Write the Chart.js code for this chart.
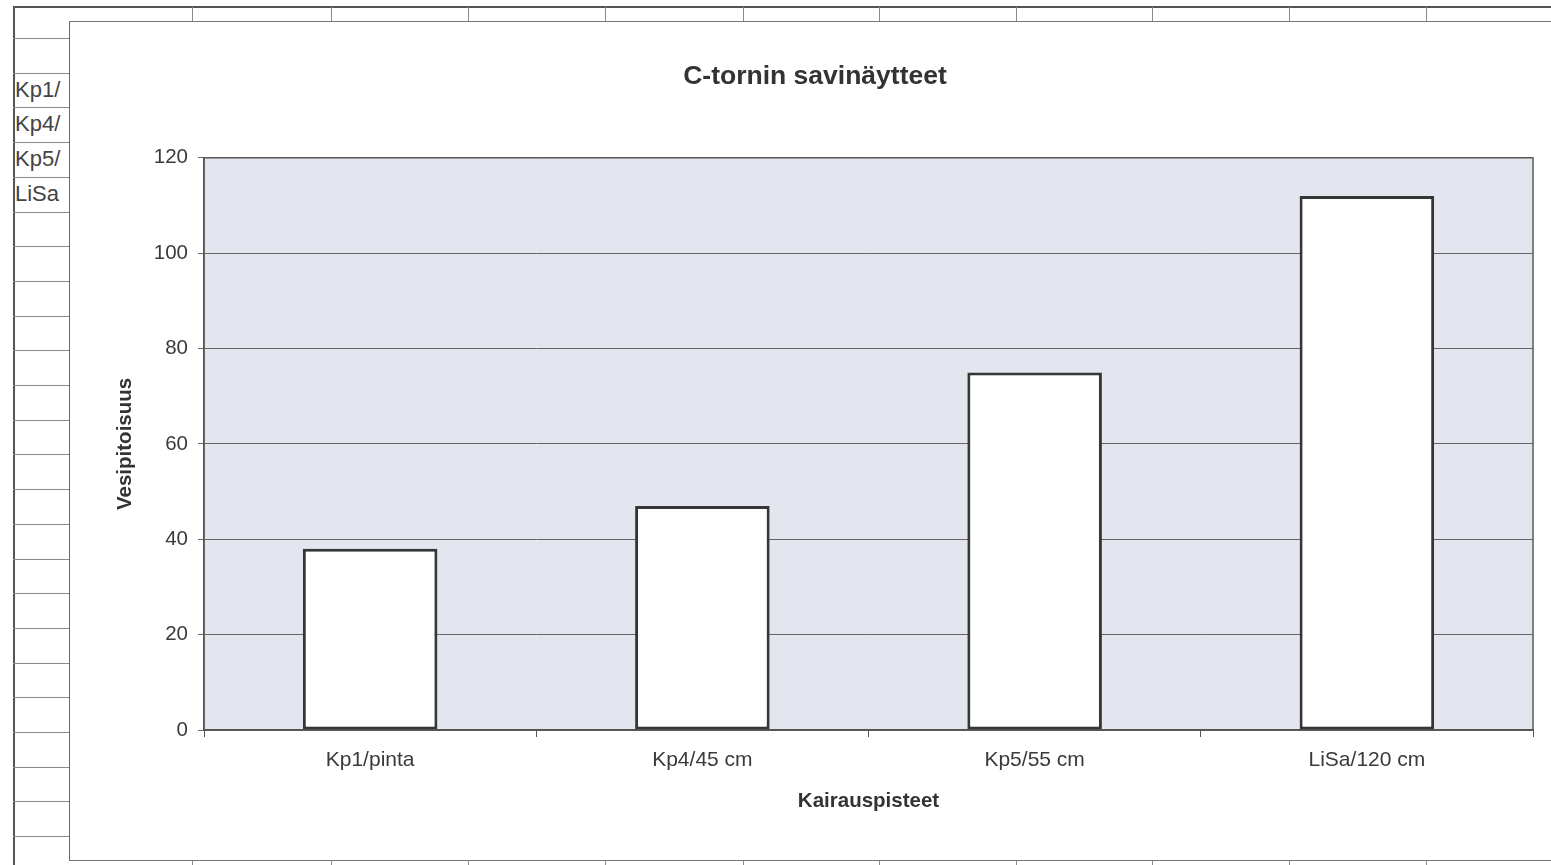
<!DOCTYPE html>
<html>
<head>
<meta charset="utf-8">
<script src="https://cdn.jsdelivr.net/npm/chart.js@4"></script>
<style>
  html, body { margin: 0; padding: 0; width: 1551px; height: 865px; overflow: hidden; background: #fff; font-family: "Liberation Sans", Arial, sans-serif; }
  .sheet { position: absolute; left: 0; top: 0; width: 1551px; height: 865px; }
  .hl { position: absolute; height: 0; border-top: 1px solid #8a8a8a; }
  .vl { position: absolute; width: 0; border-left: 1px solid #8a8a8a; }
  .cell { position: absolute; left: 15px; width: 54px; overflow: hidden; white-space: nowrap; font-size: 22px; color: #444; line-height: 34px; }
  #frame { position: absolute; left: 69px; top: 21px; width: 1500px; height: 838px; background: #fff; border-left: 1px solid #666; border-top: 1px solid #777; border-bottom: 1px solid #777; }
  #wrap { position: absolute; left: 97px; top: 22px; width: 1454px; height: 838px; }
</style>
</head>
<body>
<div class="sheet" id="sheet"></div>
<div id="frame"></div>
<div id="wrap"><canvas id="c"></canvas></div>
<script>
// ---- data ----
const categories = ["Kp1/pinta", "Kp4/45 cm", "Kp5/55 cm", "LiSa/120 cm"];
const values = [38, 47, 75, 112];
const yTicks = [0, 20, 40, 60, 80, 100, 120];
const sideCells = ["Kp1/", "Kp4/", "Kp5/", "LiSa"];
const chartTitle = "C-tornin savinäytteet";
const xTitle = "Kairauspisteet";
const yTitle = "Vesipitoisuus";

// ---- spreadsheet background (decoration) ----
const sheet = document.getElementById('sheet');
function add(cls, style, text) {
  const d = document.createElement('div');
  d.className = cls;
  Object.assign(d.style, style);
  if (text) d.textContent = text;
  sheet.appendChild(d);
}
add('hl', {left: '13px', top: '6px', width: '1538px', borderTop: '2px solid #555'});
add('vl', {left: '13px', top: '6px', height: '859px', borderLeft: '2px solid #555'});
[192, 331, 468, 605, 743, 879, 1016, 1152, 1289, 1426].forEach(x =>
  add('vl', {left: x + 'px', top: '7px', height: '858px'}));
for (let i = 0; i < 24; i++) {
  const y = Math.round(38 + i * 34.7);
  add('hl', {left: '13px', top: y + 'px', width: '60px'});
}
sideCells.forEach((t, i) => {
  const y = Math.round(38 + (i + 1) * 34.7);
  add('cell', {top: y + 'px'}, t);
});

// ---- chart ----
const FONT = "'Liberation Sans', Arial, sans-serif";
const plotDeco = {
  id: 'plotDeco',
  beforeDraw(chart) {
    const {ctx, chartArea: a} = chart;
    ctx.save();
    ctx.fillStyle = '#e3e6ef';
    ctx.fillRect(a.left, a.top, a.right - a.left, a.bottom - a.top);
    ctx.restore();
  },
  afterDatasetsDraw(chart) {
    const {ctx, chartArea: a} = chart;
    ctx.save();
    ctx.strokeStyle = '#5a5a5a';
    ctx.lineWidth = 1.5;
    ctx.strokeRect(a.left, a.top, a.right - a.left, a.bottom - a.top);
    ctx.restore();
  }
};

new Chart(document.getElementById('c'), {
  type: 'bar',
  data: {
    labels: categories,
    datasets: [{
      data: values,
      backgroundColor: '#ffffff',
      borderColor: '#363636',
      borderWidth: 3,
      borderSkipped: false,
      barPercentage: 0.405,
      categoryPercentage: 1.0
    }]
  },
  options: {
    responsive: true,
    maintainAspectRatio: false,
    animation: false,
    layout: { padding: { left: 0, right: 18, top: 0, bottom: 0 } },
    plugins: {
      legend: { display: false },
      tooltip: { enabled: false },
      title: {
        display: true,
        text: chartTitle,
        color: '#333',
        font: { family: FONT, size: 26.5, weight: 'bold' },
        padding: { top: 39, bottom: 65 }
      }
    },
    scales: {
      x: {
        grid: { display: true, drawOnChartArea: false, drawTicks: true, tickLength: 7, color: '#555', offset: true },
        border: { display: true, color: '#444', width: 1.5 },
        ticks: { color: '#3a3a3a', font: { family: FONT, size: 21 }, padding: 11, maxRotation: 0 },
        title: { display: true, text: xTitle, color: '#333', font: { family: FONT, size: 20.5, weight: 'bold' }, padding: { top: 0, bottom: 46 } },
        afterFit(scale) { scale.height = 130; }
      },
      y: {
        min: 0,
        max: 120,
        afterBuildTicks(scale) { scale.ticks = yTicks.map(v => ({ value: v })); },
        grid: { color: '#666', lineWidth: 1, drawTicks: true, tickLength: 6 },
        border: { display: true, color: '#444', width: 1.5 },
        ticks: { color: '#3a3a3a', font: { family: FONT, size: 20.5 }, padding: 10 },
        title: { display: true, text: yTitle, color: '#333', font: { family: FONT, size: 20.5, weight: 'bold' }, padding: { top: 16, bottom: 0 } },
        afterFit(scale) { scale.width = 107; }
      }
    }
  },
  plugins: [plotDeco]
});
</script>
</body>
</html>
